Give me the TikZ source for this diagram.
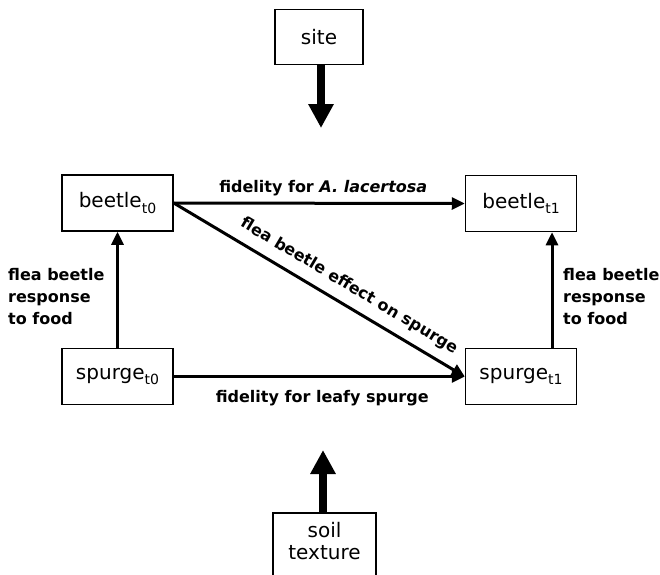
\documentclass[tikz,border=0pt]{standalone}
\usepackage{fontspec}
\setmainfont{DejaVu Sans}
\usetikzlibrary{arrows.meta,positioning}
\newcommand{\sbt}[1]{\raisebox{-0.28em}{\fontsize{14}{14}\selectfont #1}}
\begin{document}
\begin{tikzpicture}[x=1pt,y=-1pt,
  box/.style={draw, line width=1.5pt, minimum width=111pt, minimum height=56pt, inner sep=0pt, font=\fontsize{20}{24}\selectfont},
  thin/.style={line width=3pt, -{Triangle[length=13pt,width=12pt]}},
  thick/.style={line width=8pt, -{Triangle[length=24pt,width=24pt]}},
  lab/.style={font=\fontsize{16}{22}\selectfont\bfseries, inner sep=0pt}]
\path[use as bounding box] (0,0) rectangle (660,574);
\node[box, minimum width=88pt, minimum height=55pt] (site) at (319,37) {site};
\coordinate (sitetip) at (321,128);
\draw[thick] (site.south -| sitetip) -- (sitetip);

\node[box] (b0) at (117.5,203) {beetle\sbt{t0}};
\node[box] (s0) at (117.5,376.5) {spurge\sbt{t0}};
\node[box] (b1) at (521,203.5) {beetle\sbt{t1}};
\node[box] (s1) at (521,376.5) {spurge\sbt{t1}};

\draw[thin] (b0.east) -- (b1.west) node[lab, midway, above=6pt, xshift=4pt] {fidelity for \textit{A. lacertosa}};
\draw[thin] (s0.east) -- (s1.west) node[lab, midway, below=12pt, xshift=3pt] {fidelity for leafy spurge};
\draw[thin] (b0.east) -- (s1.west) node[lab, pos=0.57, sloped, above=9pt] {flea beetle effect on spurge};
\draw[thin] (s0.north) -- (b0.south);
\draw[thin] ([xshift=31pt]s1.north) -- ([xshift=31pt]b1.south);

\node[lab, align=left, anchor=west] (lfl) at (8,297) {flea beetle\\response\\to food};
\node[lab, align=left, anchor=west] (rfl) at (563,297) {flea beetle\\response\\to food};

\begin{scope}
\clip (0,0) rectangle (660,574);
\node[box, minimum width=103pt, minimum height=100pt, anchor=north] (soil) at (324.5,512) {};
\end{scope}
\node[align=center, font=\fontsize{20}{22}\selectfont, inner sep=0pt] (soiltxt) at (324.5,541) {soil\\texture};
\coordinate (soiltip) at (323,450);
\draw[thick] (soil.north -| soiltip) -- (soiltip);
\end{tikzpicture}
\end{document}
